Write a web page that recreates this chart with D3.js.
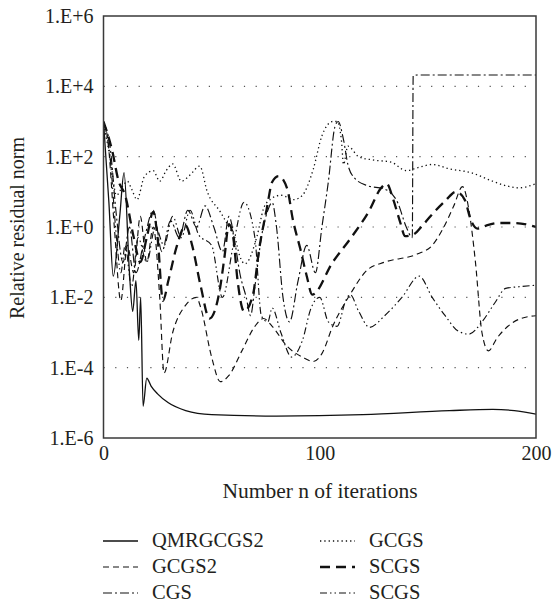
<!DOCTYPE html>
<html><head><meta charset="utf-8">
<script src="https://cdn.jsdelivr.net/npm/d3@7"></script>
<style>
html,body{margin:0;padding:0;background:#fff;}
svg{display:block;}
text{font-family:"Liberation Serif","DejaVu Serif",serif;fill:#231f20;}
</style></head>
<body>
<svg id="chart" width="552" height="603"></svg>
<script>
// ---- data ----
const seriesNames = ["QMRGCGS2","GCGS2","CGS","GCGS","SCGS","SCGS"];
const yTickValues = [1e-6,1e-4,1e-2,1e0,1e2,1e4,1e6];
const yTickLabels = ["1.E-6","1.E-4","1.E-2","1.E+0","1.E+2","1.E+4","1.E+6"];
const xTickValues = [0,100,200];
const xTickLabels = ["0","100","200"];

const qmrgcgs2 = [[0,1000],[2.5,5],[4.5,0.04],[7.5,2],[9.5,35],[12,0.05],[13.5,0.004],[15,0.03],[16.3,6e-4],[17.2,0.01],[18.3,8e-6],[20,5e-5],[22,3e-5],[25,1.8e-5],[30,1e-5],[38,6e-6],[50,4.6e-6],[80,4.2e-6],[120,4.6e-6],[160,6e-6],[180,6.5e-6],[190,6e-6],[200,4.8e-6]];
const gcgs2 = [[0,900],[2,300],[5,1],[8,0.008],[11,0.3],[14,0.05],[17,2],[20,0.1],[23,1],[26,0.01],[28,7e-5],[32,1e-3],[38,6e-3],[43,1e-2],[45,5e-3],[50,2e-4],[54,4e-5],[58,6e-5],[64,3e-4],[70,1.5e-3],[74,2.5e-3],[78,1.5e-3],[85,4e-4],[92,2e-4],[97,1.5e-4],[101,2.5e-4],[106,1.5e-3],[114,1.2e-2],[122,6e-2],[130,0.1],[145,0.17],[152,0.3],[157,0.9],[162,4],[166,14],[169,3],[172,0.1],[175,1e-3],[178,3e-4],[182,7e-4],[187,1.5e-3],[193,2.5e-3],[200,3e-3]];
const cgs = [[0,900],[3,200],[6,2],[9,0.1],[12,1],[15,0.05],[19,0.5],[23,3],[27,0.2],[31,1.5],[35,0.5],[39,3],[43,1],[47,4],[51,1],[55,0.2],[58,2],[61,0.3],[63,0.05],[66,0.01],[68,0.003],[70,0.02],[73,0.5],[76,3],[78,5],[80,1],[83,0.01],[86,2e-3],[90,0.03],[94,0.3],[98,0.05],[101,1],[104,20],[107,700],[108.5,1000],[111,300],[113,60],[116,25],[122,15],[130,12],[136,5],[140,1],[142.8,0.5],[143.2,2e4],[145,2.1e4],[200,2.1e4]];
const gcgs = [[0,800],[3,100],[6,8],[9,15],[11,20],[13,12],[15.5,6],[19,28],[23,40],[26,20],[29,40],[32,62],[36,20],[40,30],[44.5,54],[48,10],[54,2.7],[58,1],[61,0.45],[63,0.15],[65.4,0.09],[71,0.55],[74,3.3],[77,6],[82,8],[88,6],[92,8],[97,44],[101,390],[106,1000],[108,1000],[110,300],[111,60],[113,200],[118,100],[125,80],[133,70],[140,40],[146,50],[152,60],[160,45],[170,35],[180,20],[186,15],[192,13],[200,17]];
const scgs = [[0,1000],[4,150],[7,20],[10,8],[14,0.5],[17,0.1],[20,0.5],[23,2.7],[25,0.5],[27.5,0.008],[30,0.03],[34,0.3],[38,1.1],[41,0.3],[45,0.02],[49,0.0025],[54,0.02],[56,0.15],[58,1.2],[60,0.5],[62,0.03],[65,0.004],[69,0.011],[72,0.24],[75.5,3.3],[78,19],[81,28],[85,12],[87.5,1.7],[91,0.24],[94,0.04],[96.5,0.012],[106,0.1],[115,0.55],[123,3],[128,12],[131,17],[134,6],[137,1.5],[139.5,0.55],[143,0.6],[148,1.2],[153,2.7],[158,5.5],[163,10],[167,6],[170,1.5],[173,0.9],[177,1.1],[183,1.3],[190,1.3],[200,1.0]];
const scgs2 = [[0,1000],[3,100],[6,0.5],[8,0.05],[10,0.3],[13,0.02],[16,0.5],[20,0.1],[24,1],[28,0.3],[32,2],[36,0.5],[40,3],[44,0.6],[50,0.3],[55,0.01],[60,0.3],[65,5],[70,0.5],[73,3e-3],[76,2e-3],[78,5e-3],[82,1e-3],[87,2e-4],[92,6e-4],[96,0.005],[100,0.01],[104,2e-3],[108,1.5e-3],[112,8e-3],[114,0.012],[118,4e-3],[123,1.4e-3],[130,3e-3],[138,0.01],[146,0.04],[152,0.01],[158,3e-3],[164,1.1e-3],[169,9e-4],[175,2e-3],[181,7e-3],[186,0.018],[192,0.02],[200,0.022]];

// ---- styles ----
const styles = [
  {w:1.3, dash:null},
  {w:1.15, dash:"6,4"},
  {w:1.15, dash:"9,3,2,3"},
  {w:1.3, dash:"1.3,3"},
  {w:2.3, dash:"10,6"},
  {w:1.15, dash:"7,3,1.5,3,1.5,3"}
];
const allData = [qmrgcgs2,gcgs2,cgs,gcgs,scgs,scgs2];

const svg = d3.select("#chart");
const L=103.5, R=536, T=16, B=438;
const x = d3.scaleLinear().domain([0,200]).range([L,R]);
const y = d3.scaleLog().domain([1e-6,1e6]).range([B,T]);

// grid
svg.append("g").selectAll("line").data(yTickValues.filter(v=>v>1e-6 && v<1e6)).join("line")
  .attr("x1",L).attr("x2",R).attr("y1",d=>y(d)).attr("y2",d=>y(d))
  .attr("stroke","#555").attr("stroke-width",1.2).attr("stroke-dasharray","1.2,10.5");

// lines
const line = d3.line().x(d=>x(d[0])).y(d=>y(d[1])).curve(d3.curveMonotoneX);
svg.append("clipPath").attr("id","pc").append("rect").attr("x",L).attr("y",T).attr("width",R-L).attr("height",B-T);
const g = svg.append("g").attr("clip-path","url(#pc)");
allData.forEach((d,i)=>{
  g.append("path").datum(d).attr("d",line).attr("fill","none")
   .attr("stroke","#111").attr("stroke-width",styles[i].w)
   .attr("stroke-dasharray",styles[i].dash);
});

// frame
svg.append("rect").attr("x",L).attr("y",T).attr("width",R-L).attr("height",B-T)
  .attr("fill","none").attr("stroke","#3a3a3a").attr("stroke-width",1.5);

// axes
const yAxis = d3.axisLeft(y).tickValues(yTickValues).tickFormat((d,i)=>yTickLabels[i]).tickSize(0).tickPadding(10);
const ya = svg.append("g").attr("transform",`translate(${L},0)`).call(yAxis);
ya.select(".domain").remove();
ya.selectAll("text").style("font-size","20px").style("font-family","Liberation Serif").attr("fill","#231f20");

const xAxis = d3.axisBottom(x).tickValues(xTickValues).tickFormat((d,i)=>xTickLabels[i]).tickSize(0).tickPadding(8);
const xa = svg.append("g").attr("transform",`translate(0,${B})`).call(xAxis);
xa.select(".domain").remove();
xa.selectAll("text").style("font-size","20px").style("font-family","Liberation Serif").attr("fill","#231f20");

svg.append("text").attr("x",320).attr("y",498).attr("text-anchor","middle")
  .style("font-size","21.5px").text("Number n of iterations");
svg.append("text").attr("transform","translate(24,228) rotate(-90)").attr("text-anchor","middle")
  .style("font-size","20px").text("Relative residual norm");

// legend
const legPos = [[103,541],[103,567],[103,593],[320,541],[320,567],[320,593]];
seriesNames.forEach((name,k)=>{
  const [lx,ly]=legPos[k];
  svg.append("line").attr("x1",lx).attr("x2",lx+35).attr("y1",ly).attr("y2",ly)
    .attr("stroke","#111").attr("stroke-width",styles[k].w).attr("stroke-dasharray",styles[k].dash);
  svg.append("text").attr("x",lx+49).attr("y",ly+6).style("font-size","20.5px").text(name);
});
</script>
</body></html>
